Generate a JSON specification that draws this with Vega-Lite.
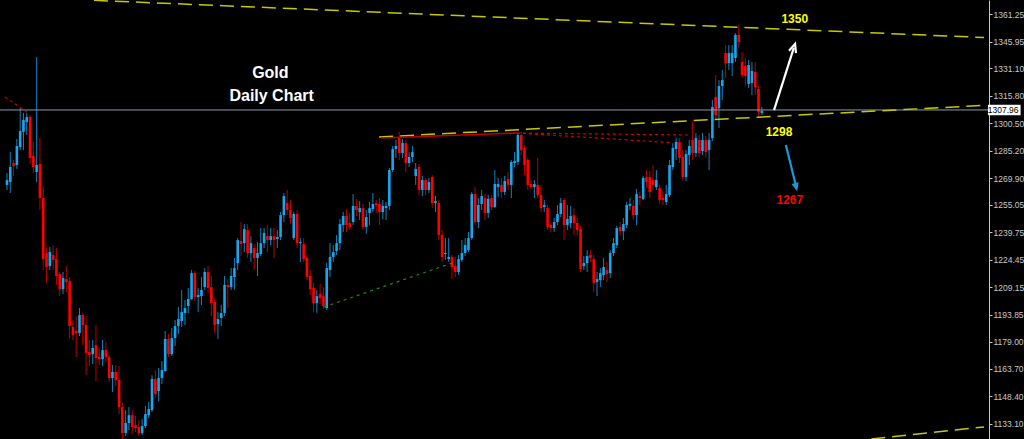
{
"$schema": "https://vega.github.io/schema/vega-lite/v6.json",
"width": 989, "height": 439, "autosize": "none",
"padding": {"left": 0, "top": 0, "right": 35, "bottom": 0},
"background": "#000000",
"config": {"view": {"stroke": null}, "axis": {"grid": false}},
"datasets": {
"candles": [
{"i":0,"o":1266.2,"h":1272.8,"l":1263.4,"c":1268.9},
{"i":1,"o":1267.8,"h":1284.5,"l":1261.7,"c":1276.2},
{"i":2,"o":1278.4,"h":1280.1,"l":1271.2,"c":1276.7},
{"i":3,"o":1277.3,"h":1291.8,"l":1275.1,"c":1287.9},
{"i":4,"o":1287.3,"h":1309.0,"l":1285.6,"c":1296.2},
{"i":5,"o":1295.7,"h":1306.3,"l":1285.6,"c":1302.4},
{"i":6,"o":1301.2,"h":1306.3,"l":1294.0,"c":1304.0},
{"i":7,"o":1304.0,"h":1305.1,"l":1277.9,"c":1281.2},
{"i":8,"o":1282.3,"h":1290.1,"l":1272.8,"c":1276.2},
{"i":9,"o":1273.4,"h":1337.5,"l":1267.8,"c":1277.3},
{"i":10,"o":1277.9,"h":1292.3,"l":1252.2,"c":1258.9},
{"i":11,"o":1258.9,"h":1265.6,"l":1218.8,"c":1224.9},
{"i":12,"o":1228.3,"h":1231.1,"l":1211.6,"c":1220.5},
{"i":13,"o":1221.0,"h":1231.6,"l":1218.8,"c":1228.8},
{"i":14,"o":1227.2,"h":1232.7,"l":1218.8,"c":1224.4},
{"i":15,"o":1224.9,"h":1231.1,"l":1210.5,"c":1215.5},
{"i":16,"o":1216.6,"h":1217.7,"l":1204.3,"c":1208.2},
{"i":17,"o":1208.2,"h":1217.7,"l":1205.4,"c":1214.4},
{"i":18,"o":1213.8,"h":1221.0,"l":1206.6,"c":1212.1},
{"i":19,"o":1212.7,"h":1214.9,"l":1180.9,"c":1187.6},
{"i":20,"o":1187.1,"h":1191.0,"l":1179.8,"c":1182.6},
{"i":21,"o":1184.8,"h":1193.2,"l":1170.4,"c":1183.7},
{"i":22,"o":1183.7,"h":1197.6,"l":1182.0,"c":1193.7},
{"i":23,"o":1193.7,"h":1194.9,"l":1177.0,"c":1188.2},
{"i":24,"o":1188.2,"h":1193.2,"l":1160.3,"c":1172.6},
{"i":25,"o":1173.1,"h":1179.8,"l":1165.3,"c":1171.5},
{"i":26,"o":1172.0,"h":1179.8,"l":1166.5,"c":1175.4},
{"i":27,"o":1177.0,"h":1188.2,"l":1157.0,"c":1169.8},
{"i":28,"o":1170.4,"h":1175.4,"l":1165.9,"c":1169.2},
{"i":29,"o":1169.2,"h":1179.8,"l":1165.3,"c":1174.2},
{"i":30,"o":1174.2,"h":1178.7,"l":1167.6,"c":1170.4},
{"i":31,"o":1170.4,"h":1171.5,"l":1156.4,"c":1158.7},
{"i":32,"o":1158.7,"h":1165.9,"l":1150.9,"c":1162.0},
{"i":33,"o":1162.0,"h":1165.9,"l":1154.2,"c":1157.5},
{"i":34,"o":1157.5,"h":1165.3,"l":1138.6,"c":1142.5},
{"i":35,"o":1142.5,"h":1144.7,"l":1124.7,"c":1128.0},
{"i":36,"o":1128.0,"h":1140.8,"l":1126.3,"c":1133.6},
{"i":37,"o":1133.6,"h":1142.5,"l":1129.7,"c":1138.0},
{"i":38,"o":1138.0,"h":1140.8,"l":1127.5,"c":1131.4},
{"i":39,"o":1132.5,"h":1137.5,"l":1128.6,"c":1130.8},
{"i":40,"o":1131.4,"h":1135.3,"l":1126.3,"c":1128.0},
{"i":41,"o":1128.0,"h":1135.8,"l":1126.9,"c":1131.9},
{"i":42,"o":1131.9,"h":1143.1,"l":1130.8,"c":1138.6},
{"i":43,"o":1138.0,"h":1145.3,"l":1136.4,"c":1141.4},
{"i":44,"o":1140.8,"h":1160.3,"l":1139.7,"c":1158.1},
{"i":45,"o":1158.1,"h":1163.1,"l":1147.5,"c":1149.7},
{"i":46,"o":1151.4,"h":1164.2,"l":1145.8,"c":1158.7},
{"i":47,"o":1158.7,"h":1168.1,"l":1155.3,"c":1163.1},
{"i":48,"o":1162.6,"h":1184.8,"l":1162.0,"c":1180.4},
{"i":49,"o":1180.4,"h":1183.2,"l":1170.4,"c":1172.0},
{"i":50,"o":1172.0,"h":1186.5,"l":1170.9,"c":1180.9},
{"i":51,"o":1180.9,"h":1191.0,"l":1176.5,"c":1187.6},
{"i":52,"o":1187.6,"h":1198.2,"l":1183.2,"c":1191.5},
{"i":53,"o":1190.4,"h":1207.7,"l":1187.1,"c":1195.4},
{"i":54,"o":1194.9,"h":1202.1,"l":1188.2,"c":1197.6},
{"i":55,"o":1198.8,"h":1208.8,"l":1194.9,"c":1202.7},
{"i":56,"o":1202.7,"h":1218.8,"l":1202.1,"c":1217.1},
{"i":57,"o":1217.1,"h":1218.3,"l":1201.5,"c":1203.8},
{"i":58,"o":1203.8,"h":1208.8,"l":1195.4,"c":1204.9},
{"i":59,"o":1204.3,"h":1214.9,"l":1199.3,"c":1207.7},
{"i":60,"o":1209.3,"h":1219.9,"l":1207.7,"c":1217.7},
{"i":61,"o":1217.7,"h":1221.0,"l":1206.0,"c":1208.8},
{"i":62,"o":1209.3,"h":1215.5,"l":1193.2,"c":1200.4},
{"i":63,"o":1201.0,"h":1203.2,"l":1183.7,"c":1188.2},
{"i":64,"o":1188.7,"h":1195.4,"l":1180.4,"c":1191.5},
{"i":65,"o":1192.1,"h":1199.3,"l":1187.6,"c":1194.9},
{"i":66,"o":1194.9,"h":1215.5,"l":1193.2,"c":1210.5},
{"i":67,"o":1210.5,"h":1213.8,"l":1197.6,"c":1209.3},
{"i":68,"o":1209.3,"h":1219.9,"l":1207.7,"c":1215.5},
{"i":69,"o":1214.9,"h":1225.5,"l":1207.7,"c":1219.9},
{"i":70,"o":1222.7,"h":1236.6,"l":1218.8,"c":1235.5},
{"i":71,"o":1235.0,"h":1245.5,"l":1226.6,"c":1233.3},
{"i":72,"o":1233.8,"h":1244.4,"l":1228.8,"c":1241.6},
{"i":73,"o":1241.1,"h":1244.4,"l":1225.5,"c":1228.3},
{"i":74,"o":1228.3,"h":1237.7,"l":1223.3,"c":1233.8},
{"i":75,"o":1231.1,"h":1233.3,"l":1218.8,"c":1225.5},
{"i":76,"o":1225.5,"h":1234.4,"l":1215.5,"c":1228.3},
{"i":77,"o":1227.7,"h":1242.2,"l":1226.6,"c":1233.8},
{"i":78,"o":1233.8,"h":1242.2,"l":1231.1,"c":1239.4},
{"i":79,"o":1237.7,"h":1243.9,"l":1228.8,"c":1235.5},
{"i":80,"o":1235.5,"h":1242.2,"l":1232.7,"c":1237.7},
{"i":81,"o":1237.7,"h":1242.2,"l":1225.5,"c":1235.5},
{"i":82,"o":1236.1,"h":1241.1,"l":1231.1,"c":1237.2},
{"i":83,"o":1237.2,"h":1251.1,"l":1235.5,"c":1249.4},
{"i":84,"o":1249.4,"h":1261.7,"l":1245.5,"c":1260.0},
{"i":85,"o":1256.1,"h":1263.4,"l":1249.4,"c":1252.2},
{"i":86,"o":1252.2,"h":1257.8,"l":1244.4,"c":1247.8},
{"i":87,"o":1236.6,"h":1251.1,"l":1235.5,"c":1250.0},
{"i":88,"o":1250.0,"h":1252.2,"l":1231.1,"c":1233.8},
{"i":89,"o":1233.8,"h":1236.6,"l":1223.3,"c":1234.4},
{"i":90,"o":1233.3,"h":1236.6,"l":1223.3,"c":1224.9},
{"i":91,"o":1225.5,"h":1227.2,"l":1213.2,"c":1214.9},
{"i":92,"o":1215.5,"h":1218.8,"l":1204.9,"c":1208.2},
{"i":93,"o":1208.8,"h":1211.6,"l":1195.4,"c":1200.4},
{"i":94,"o":1200.4,"h":1207.7,"l":1194.9,"c":1204.3},
{"i":95,"o":1205.4,"h":1211.0,"l":1199.9,"c":1203.2},
{"i":96,"o":1204.3,"h":1209.3,"l":1197.1,"c":1198.8},
{"i":97,"o":1197.6,"h":1222.7,"l":1196.5,"c":1219.9},
{"i":98,"o":1218.8,"h":1233.8,"l":1214.9,"c":1226.1},
{"i":99,"o":1226.1,"h":1232.7,"l":1223.3,"c":1228.8},
{"i":100,"o":1229.4,"h":1238.3,"l":1227.2,"c":1233.8},
{"i":101,"o":1233.8,"h":1247.2,"l":1229.9,"c":1244.4},
{"i":102,"o":1243.9,"h":1251.1,"l":1240.0,"c":1248.9},
{"i":103,"o":1248.9,"h":1252.8,"l":1240.0,"c":1243.9},
{"i":104,"o":1245.0,"h":1250.6,"l":1241.1,"c":1242.8},
{"i":105,"o":1245.5,"h":1261.1,"l":1243.9,"c":1254.5},
{"i":106,"o":1254.5,"h":1258.4,"l":1248.9,"c":1252.2},
{"i":107,"o":1251.1,"h":1257.2,"l":1246.7,"c":1253.3},
{"i":108,"o":1253.3,"h":1255.6,"l":1241.1,"c":1242.8},
{"i":109,"o":1242.8,"h":1252.2,"l":1238.9,"c":1248.3},
{"i":110,"o":1250.6,"h":1256.7,"l":1243.9,"c":1253.3},
{"i":111,"o":1252.8,"h":1261.7,"l":1251.1,"c":1255.6},
{"i":112,"o":1256.1,"h":1257.8,"l":1250.6,"c":1255.0},
{"i":113,"o":1255.6,"h":1258.9,"l":1243.9,"c":1251.1},
{"i":114,"o":1251.1,"h":1257.8,"l":1247.2,"c":1254.5},
{"i":115,"o":1253.3,"h":1256.7,"l":1246.7,"c":1254.5},
{"i":116,"o":1254.5,"h":1275.6,"l":1252.2,"c":1274.5},
{"i":117,"o":1274.5,"h":1287.9,"l":1273.4,"c":1286.2},
{"i":118,"o":1286.2,"h":1291.2,"l":1281.2,"c":1287.9},
{"i":119,"o":1292.3,"h":1295.7,"l":1280.1,"c":1284.0},
{"i":120,"o":1284.0,"h":1291.8,"l":1281.2,"c":1289.5},
{"i":121,"o":1289.5,"h":1291.2,"l":1273.4,"c":1278.4},
{"i":122,"o":1278.4,"h":1284.5,"l":1276.2,"c":1281.8},
{"i":123,"o":1281.8,"h":1287.9,"l":1279.0,"c":1284.5},
{"i":124,"o":1271.2,"h":1278.4,"l":1266.2,"c":1275.1},
{"i":125,"o":1276.2,"h":1277.9,"l":1260.6,"c":1263.4},
{"i":126,"o":1263.4,"h":1271.2,"l":1260.0,"c":1268.9},
{"i":127,"o":1268.9,"h":1270.1,"l":1260.6,"c":1263.4},
{"i":128,"o":1263.4,"h":1270.1,"l":1261.7,"c":1267.8},
{"i":129,"o":1270.6,"h":1271.7,"l":1253.3,"c":1256.1},
{"i":130,"o":1256.1,"h":1260.0,"l":1251.1,"c":1257.2},
{"i":131,"o":1256.1,"h":1257.8,"l":1235.5,"c":1238.3},
{"i":132,"o":1238.3,"h":1241.1,"l":1223.3,"c":1226.1},
{"i":133,"o":1227.7,"h":1236.6,"l":1224.4,"c":1228.3},
{"i":134,"o":1224.9,"h":1236.6,"l":1223.3,"c":1226.1},
{"i":135,"o":1226.1,"h":1227.2,"l":1213.8,"c":1220.5},
{"i":136,"o":1221.0,"h":1226.1,"l":1214.9,"c":1217.7},
{"i":137,"o":1217.7,"h":1227.2,"l":1216.0,"c":1224.9},
{"i":138,"o":1224.4,"h":1235.5,"l":1223.3,"c":1228.3},
{"i":139,"o":1228.3,"h":1236.6,"l":1226.6,"c":1232.7},
{"i":140,"o":1229.9,"h":1240.0,"l":1228.8,"c":1236.6},
{"i":141,"o":1236.6,"h":1262.3,"l":1235.5,"c":1261.1},
{"i":142,"o":1261.1,"h":1265.0,"l":1243.9,"c":1245.5},
{"i":143,"o":1245.5,"h":1258.9,"l":1242.2,"c":1255.0},
{"i":144,"o":1255.6,"h":1263.4,"l":1252.2,"c":1260.0},
{"i":145,"o":1258.9,"h":1261.1,"l":1246.7,"c":1250.6},
{"i":146,"o":1250.6,"h":1260.6,"l":1247.8,"c":1258.4},
{"i":147,"o":1258.9,"h":1260.6,"l":1252.2,"c":1253.9},
{"i":148,"o":1253.9,"h":1274.5,"l":1253.3,"c":1266.7},
{"i":149,"o":1265.0,"h":1270.1,"l":1259.5,"c":1266.7},
{"i":150,"o":1266.2,"h":1270.1,"l":1258.9,"c":1262.3},
{"i":151,"o":1262.3,"h":1271.2,"l":1260.6,"c":1268.4},
{"i":152,"o":1269.5,"h":1273.4,"l":1263.4,"c":1266.2},
{"i":153,"o":1266.2,"h":1280.1,"l":1258.9,"c":1279.0},
{"i":154,"o":1278.4,"h":1284.5,"l":1276.2,"c":1279.5},
{"i":155,"o":1279.0,"h":1295.1,"l":1277.3,"c":1294.0},
{"i":156,"o":1294.0,"h":1295.7,"l":1282.9,"c":1285.6},
{"i":157,"o":1286.8,"h":1288.4,"l":1271.7,"c":1277.3},
{"i":158,"o":1280.1,"h":1281.2,"l":1263.4,"c":1266.2},
{"i":159,"o":1266.7,"h":1268.9,"l":1263.4,"c":1265.0},
{"i":160,"o":1265.0,"h":1268.9,"l":1258.9,"c":1266.7},
{"i":161,"o":1266.2,"h":1281.2,"l":1258.9,"c":1260.6},
{"i":162,"o":1260.6,"h":1266.2,"l":1251.1,"c":1253.3},
{"i":163,"o":1253.9,"h":1257.8,"l":1251.1,"c":1255.0},
{"i":164,"o":1253.3,"h":1255.0,"l":1241.1,"c":1242.8},
{"i":165,"o":1243.9,"h":1245.5,"l":1240.0,"c":1242.2},
{"i":166,"o":1242.2,"h":1247.8,"l":1240.0,"c":1245.5},
{"i":167,"o":1245.5,"h":1255.0,"l":1243.9,"c":1250.0},
{"i":168,"o":1250.0,"h":1258.9,"l":1248.3,"c":1256.1},
{"i":169,"o":1257.8,"h":1258.9,"l":1235.5,"c":1243.9},
{"i":170,"o":1243.9,"h":1255.0,"l":1241.1,"c":1247.2},
{"i":171,"o":1245.0,"h":1254.5,"l":1242.2,"c":1248.9},
{"i":172,"o":1249.4,"h":1253.3,"l":1238.3,"c":1245.0},
{"i":173,"o":1245.0,"h":1247.8,"l":1238.3,"c":1241.1},
{"i":174,"o":1241.6,"h":1243.3,"l":1217.7,"c":1219.4},
{"i":175,"o":1221.0,"h":1226.6,"l":1218.8,"c":1222.7},
{"i":176,"o":1222.7,"h":1229.9,"l":1217.7,"c":1226.6},
{"i":177,"o":1227.2,"h":1229.9,"l":1223.3,"c":1225.5},
{"i":178,"o":1224.9,"h":1227.2,"l":1206.6,"c":1211.6},
{"i":179,"o":1212.1,"h":1217.7,"l":1204.3,"c":1213.8},
{"i":180,"o":1213.2,"h":1219.9,"l":1209.3,"c":1217.1},
{"i":181,"o":1216.0,"h":1225.5,"l":1213.2,"c":1220.5},
{"i":182,"o":1218.8,"h":1223.3,"l":1212.1,"c":1216.6},
{"i":183,"o":1217.1,"h":1229.9,"l":1214.4,"c":1228.3},
{"i":184,"o":1228.3,"h":1236.6,"l":1226.6,"c":1233.8},
{"i":185,"o":1232.7,"h":1243.3,"l":1231.1,"c":1242.2},
{"i":186,"o":1242.8,"h":1245.5,"l":1237.7,"c":1240.5},
{"i":187,"o":1240.5,"h":1247.8,"l":1235.5,"c":1244.4},
{"i":188,"o":1243.9,"h":1256.7,"l":1242.2,"c":1255.0},
{"i":189,"o":1254.5,"h":1258.9,"l":1252.2,"c":1255.6},
{"i":190,"o":1254.5,"h":1257.8,"l":1246.7,"c":1249.4},
{"i":191,"o":1249.4,"h":1263.9,"l":1243.9,"c":1261.1},
{"i":192,"o":1260.0,"h":1262.3,"l":1255.0,"c":1258.9},
{"i":193,"o":1258.4,"h":1271.2,"l":1257.8,"c":1270.1},
{"i":194,"o":1270.6,"h":1274.5,"l":1264.5,"c":1267.8},
{"i":195,"o":1270.6,"h":1274.0,"l":1258.9,"c":1262.3},
{"i":196,"o":1268.9,"h":1277.3,"l":1263.4,"c":1266.2},
{"i":197,"o":1265.0,"h":1274.5,"l":1263.4,"c":1268.9},
{"i":198,"o":1264.5,"h":1266.2,"l":1255.6,"c":1257.8},
{"i":199,"o":1258.9,"h":1262.3,"l":1255.0,"c":1257.8},
{"i":200,"o":1256.7,"h":1266.2,"l":1255.0,"c":1261.1},
{"i":201,"o":1260.6,"h":1280.1,"l":1259.5,"c":1277.3},
{"i":202,"o":1276.2,"h":1289.5,"l":1274.5,"c":1286.8},
{"i":203,"o":1286.2,"h":1292.3,"l":1280.1,"c":1290.1},
{"i":204,"o":1290.1,"h":1292.3,"l":1278.4,"c":1281.2},
{"i":205,"o":1281.8,"h":1285.6,"l":1268.9,"c":1270.6},
{"i":206,"o":1270.6,"h":1285.6,"l":1268.4,"c":1283.4},
{"i":207,"o":1282.9,"h":1291.2,"l":1277.3,"c":1287.9},
{"i":208,"o":1291.2,"h":1301.2,"l":1280.1,"c":1284.0},
{"i":209,"o":1284.0,"h":1295.1,"l":1281.8,"c":1292.3},
{"i":210,"o":1291.2,"h":1294.0,"l":1281.2,"c":1284.0},
{"i":211,"o":1285.1,"h":1295.1,"l":1282.9,"c":1291.2},
{"i":212,"o":1291.2,"h":1293.4,"l":1281.2,"c":1284.5},
{"i":213,"o":1285.6,"h":1295.1,"l":1274.5,"c":1291.2},
{"i":214,"o":1292.3,"h":1313.5,"l":1290.7,"c":1309.6},
{"i":215,"o":1315.2,"h":1327.4,"l":1302.4,"c":1305.1},
{"i":216,"o":1309.0,"h":1324.6,"l":1297.9,"c":1321.3},
{"i":217,"o":1321.3,"h":1330.2,"l":1313.5,"c":1324.6},
{"i":218,"o":1339.7,"h":1344.1,"l":1325.8,"c":1334.1},
{"i":219,"o":1334.1,"h":1344.1,"l":1330.2,"c":1339.7},
{"i":220,"o":1334.1,"h":1344.1,"l":1326.9,"c":1339.7},
{"i":221,"o":1336.9,"h":1350.8,"l":1334.7,"c":1349.7},
{"i":222,"o":1349.7,"h":1355.3,"l":1342.5,"c":1345.8},
{"i":223,"o":1334.7,"h":1340.2,"l":1325.8,"c":1327.4},
{"i":224,"o":1332.4,"h":1336.9,"l":1321.3,"c":1326.9},
{"i":225,"o":1322.4,"h":1335.8,"l":1320.2,"c":1333.0},
{"i":226,"o":1323.0,"h":1334.7,"l":1316.3,"c":1329.7},
{"i":227,"o":1329.1,"h":1334.7,"l":1316.3,"c":1320.7},
{"i":228,"o":1319.6,"h":1321.3,"l":1304.6,"c":1306.8},
{"i":229,"o":1306.3,"h":1309.6,"l":1305.1,"c":1307.4}
]
},
"layer": [
{
"data": {"name": "candles"},
"mark": {"type": "rule", "strokeWidth": 1},
"encoding": {
"x": {"field": "i", "type": "quantitative", "scale": {"domain": [-0.6, 296.4], "nice": false, "zero": false}, "axis": null},
"y": {"field": "l", "type": "quantitative", "scale": {"domain": [1124.7, 1369.2], "nice": false, "zero": false},
"axis": {"orient": "right", "values": [1361.25, 1345.95, 1331.10, 1315.80, 1300.50, 1285.20, 1269.90, 1255.05, 1239.75, 1224.45, 1209.15, 1193.85, 1179.00, 1163.70, 1148.40, 1133.10], "format": ".2f", "title": null, "domainColor": "#c8c8c8", "tickColor": "#c8c8c8", "tickSize": 3, "labelColor": "#c8c8c8", "labelFont": "Liberation Sans", "labelFontSize": 8.5, "labelPadding": 1, "labelOverlap": false, "labelBound": false, "labelFlush": false, "grid": false}},
"y2": {"field": "h"},
"color": {"condition": {"test": "datum.c >= datum.o", "value": "#1282bd"}, "value": "#b80000"}
}
},
{
"data": {"name": "candles"},
"mark": {"type": "bar", "size": 2.6},
"encoding": {
"x": {"field": "i", "type": "quantitative", "scale": {"domain": [-0.6, 296.4], "nice": false, "zero": false}, "axis": null},
"y": {"field": "o", "type": "quantitative", "scale": {"domain": [1124.7, 1369.2], "nice": false, "zero": false},
"axis": {"orient": "right", "values": [1361.25, 1345.95, 1331.10, 1315.80, 1300.50, 1285.20, 1269.90, 1255.05, 1239.75, 1224.45, 1209.15, 1193.85, 1179.00, 1163.70, 1148.40, 1133.10], "format": ".2f", "title": null, "domainColor": "#c8c8c8", "tickColor": "#c8c8c8", "tickSize": 3, "labelColor": "#c8c8c8", "labelFont": "Liberation Sans", "labelFontSize": 8.5, "labelPadding": 1, "labelOverlap": false, "labelBound": false, "labelFlush": false, "grid": false}},
"y2": {"field": "c"},
"color": {"condition": {"test": "datum.c >= datum.o", "value": "#14a8f0"}, "value": "#ff0000"}
}
},
{
"data": {"values": [{"p": 1307.96}]},
"mark": {"type": "rule", "color": "#8a9aae", "strokeWidth": 1},
"encoding": {"y": {"field": "p", "type": "quantitative", "scale": {"domain": [1124.7, 1369.2], "nice": false, "zero": false},
"axis": {"orient": "right", "values": [1361.25, 1345.95, 1331.10, 1315.80, 1300.50, 1285.20, 1269.90, 1255.05, 1239.75, 1224.45, 1209.15, 1193.85, 1179.00, 1163.70, 1148.40, 1133.10], "format": ".2f", "title": null, "domainColor": "#c8c8c8", "tickColor": "#c8c8c8", "tickSize": 3, "labelColor": "#c8c8c8", "labelFont": "Liberation Sans", "labelFontSize": 8.5, "labelPadding": 1, "labelOverlap": false, "labelBound": false, "labelFlush": false, "grid": false}}}
},
{
"data": {"values": [
{"x1": 26.4, "y1": 1369.0, "x2": 296.4, "y2": 1348.3},
{"x1": 112.9, "y1": 1292.9, "x2": 296.4, "y2": 1310.5},
{"x1": 262.2, "y1": 1124.7, "x2": 296.4, "y2": 1131.4}
]},
"mark": {"type": "rule", "color": "#c8c800", "strokeWidth": 1.5, "strokeDash": [14, 7]},
"encoding": {
"x": {"field": "x1", "type": "quantitative", "scale": {"domain": [-0.6, 296.4], "nice": false, "zero": false}, "axis": null},
"y": {"field": "y1", "type": "quantitative", "scale": {"domain": [1124.7, 1369.2], "nice": false, "zero": false},
"axis": {"orient": "right", "values": [1361.25, 1345.95, 1331.10, 1315.80, 1300.50, 1285.20, 1269.90, 1255.05, 1239.75, 1224.45, 1209.15, 1193.85, 1179.00, 1163.70, 1148.40, 1133.10], "format": ".2f", "title": null, "domainColor": "#c8c8c8", "tickColor": "#c8c8c8", "tickSize": 3, "labelColor": "#c8c8c8", "labelFont": "Liberation Sans", "labelFontSize": 8.5, "labelPadding": 1, "labelOverlap": false, "labelBound": false, "labelFlush": false, "grid": false}},
"x2": {"field": "x2"}, "y2": {"field": "y2"}
}
},
{
"data": {"values": [
{"x1": -0.6, "y1": 1315.2, "x2": 6, "y2": 1306.8},
{"x1": 154.7, "y1": 1295.1, "x2": 207.5, "y2": 1294.0},
{"x1": 154.7, "y1": 1295.1, "x2": 201.5, "y2": 1289.8}
]},
"mark": {"type": "rule", "color": "#d00000", "strokeWidth": 1.2, "strokeDash": [3, 3]},
"encoding": {
"x": {"field": "x1", "type": "quantitative", "scale": {"domain": [-0.6, 296.4], "nice": false, "zero": false}, "axis": null},
"y": {"field": "y1", "type": "quantitative", "scale": {"domain": [1124.7, 1369.2], "nice": false, "zero": false},
"axis": {"orient": "right", "values": [1361.25, 1345.95, 1331.10, 1315.80, 1300.50, 1285.20, 1269.90, 1255.05, 1239.75, 1224.45, 1209.15, 1193.85, 1179.00, 1163.70, 1148.40, 1133.10], "format": ".2f", "title": null, "domainColor": "#c8c8c8", "tickColor": "#c8c8c8", "tickSize": 3, "labelColor": "#c8c8c8", "labelFont": "Liberation Sans", "labelFontSize": 8.5, "labelPadding": 1, "labelOverlap": false, "labelBound": false, "labelFlush": false, "grid": false}},
"x2": {"field": "x2"}, "y2": {"field": "y2"}
}
},
{
"data": {"values": [{"x1": 113.5, "y1": 1292.4, "x2": 154.7, "y2": 1295.1}]},
"mark": {"type": "rule", "color": "#c00000", "strokeWidth": 1.5},
"encoding": {
"x": {"field": "x1", "type": "quantitative", "scale": {"domain": [-0.6, 296.4], "nice": false, "zero": false}, "axis": null},
"y": {"field": "y1", "type": "quantitative", "scale": {"domain": [1124.7, 1369.2], "nice": false, "zero": false},
"axis": {"orient": "right", "values": [1361.25, 1345.95, 1331.10, 1315.80, 1300.50, 1285.20, 1269.90, 1255.05, 1239.75, 1224.45, 1209.15, 1193.85, 1179.00, 1163.70, 1148.40, 1133.10], "format": ".2f", "title": null, "domainColor": "#c8c8c8", "tickColor": "#c8c8c8", "tickSize": 3, "labelColor": "#c8c8c8", "labelFont": "Liberation Sans", "labelFontSize": 8.5, "labelPadding": 1, "labelOverlap": false, "labelBound": false, "labelFlush": false, "grid": false}},
"x2": {"field": "x2"}, "y2": {"field": "y2"}
}
},
{
"data": {"values": [{"x1": 96.1, "y1": 1198.2, "x2": 136, "y2": 1223.3}]},
"mark": {"type": "rule", "color": "#1c8c1c", "strokeWidth": 1.2, "strokeDash": [3, 4]},
"encoding": {
"x": {"field": "x1", "type": "quantitative", "scale": {"domain": [-0.6, 296.4], "nice": false, "zero": false}, "axis": null},
"y": {"field": "y1", "type": "quantitative", "scale": {"domain": [1124.7, 1369.2], "nice": false, "zero": false},
"axis": {"orient": "right", "values": [1361.25, 1345.95, 1331.10, 1315.80, 1300.50, 1285.20, 1269.90, 1255.05, 1239.75, 1224.45, 1209.15, 1193.85, 1179.00, 1163.70, 1148.40, 1133.10], "format": ".2f", "title": null, "domainColor": "#c8c8c8", "tickColor": "#c8c8c8", "tickSize": 3, "labelColor": "#c8c8c8", "labelFont": "Liberation Sans", "labelFontSize": 8.5, "labelPadding": 1, "labelOverlap": false, "labelBound": false, "labelFlush": false, "grid": false}},
"x2": {"field": "x2"}, "y2": {"field": "y2"}
}
},
{
"data": {"values": [{"x1": 232.7, "y1": 1307.9, "x2": 238.7, "y2": 1342.5}]},
"mark": {"type": "rule", "color": "#ffffff", "strokeWidth": 2.2},
"encoding": {
"x": {"field": "x1", "type": "quantitative", "scale": {"domain": [-0.6, 296.4], "nice": false, "zero": false}, "axis": null},
"y": {"field": "y1", "type": "quantitative", "scale": {"domain": [1124.7, 1369.2], "nice": false, "zero": false},
"axis": {"orient": "right", "values": [1361.25, 1345.95, 1331.10, 1315.80, 1300.50, 1285.20, 1269.90, 1255.05, 1239.75, 1224.45, 1209.15, 1193.85, 1179.00, 1163.70, 1148.40, 1133.10], "format": ".2f", "title": null, "domainColor": "#c8c8c8", "tickColor": "#c8c8c8", "tickSize": 3, "labelColor": "#c8c8c8", "labelFont": "Liberation Sans", "labelFontSize": 8.5, "labelPadding": 1, "labelOverlap": false, "labelBound": false, "labelFlush": false, "grid": false}},
"x2": {"field": "x2"}, "y2": {"field": "y2"}
}
},
{
"data": {"values": [{"x": 238.7, "y": 1342.5}]},
"mark": {"type": "point", "shape": "M-0.7,0.8L0,-0.8L0.7,0.8", "filled": false, "stroke": "#ffffff", "strokeWidth": 2.2, "size": 110, "angle": 18, "opacity": 1},
"encoding": {
"x": {"field": "x", "type": "quantitative", "scale": {"domain": [-0.6, 296.4], "nice": false, "zero": false}, "axis": null},
"y": {"field": "y", "type": "quantitative", "scale": {"domain": [1124.7, 1369.2], "nice": false, "zero": false},
"axis": {"orient": "right", "values": [1361.25, 1345.95, 1331.10, 1315.80, 1300.50, 1285.20, 1269.90, 1255.05, 1239.75, 1224.45, 1209.15, 1193.85, 1179.00, 1163.70, 1148.40, 1133.10], "format": ".2f", "title": null, "domainColor": "#c8c8c8", "tickColor": "#c8c8c8", "tickSize": 3, "labelColor": "#c8c8c8", "labelFont": "Liberation Sans", "labelFontSize": 8.5, "labelPadding": 1, "labelOverlap": false, "labelBound": false, "labelFlush": false, "grid": false}}
}
},
{
"data": {"values": [{"x1": 236.3, "y1": 1288.5, "x2": 239.3, "y2": 1266.0}]},
"mark": {"type": "rule", "color": "#1a9ad9", "strokeWidth": 2.2},
"encoding": {
"x": {"field": "x1", "type": "quantitative", "scale": {"domain": [-0.6, 296.4], "nice": false, "zero": false}, "axis": null},
"y": {"field": "y1", "type": "quantitative", "scale": {"domain": [1124.7, 1369.2], "nice": false, "zero": false},
"axis": {"orient": "right", "values": [1361.25, 1345.95, 1331.10, 1315.80, 1300.50, 1285.20, 1269.90, 1255.05, 1239.75, 1224.45, 1209.15, 1193.85, 1179.00, 1163.70, 1148.40, 1133.10], "format": ".2f", "title": null, "domainColor": "#c8c8c8", "tickColor": "#c8c8c8", "tickSize": 3, "labelColor": "#c8c8c8", "labelFont": "Liberation Sans", "labelFontSize": 8.5, "labelPadding": 1, "labelOverlap": false, "labelBound": false, "labelFlush": false, "grid": false}},
"x2": {"field": "x2"}, "y2": {"field": "y2"}
}
},
{
"data": {"values": [{"x": 239.4, "y": 1265.0}]},
"mark": {"type": "point", "shape": "M-0.7,0.8L0,-0.8L0.7,0.8Z", "filled": true, "fill": "#1a9ad9", "size": 110, "angle": 166, "opacity": 1},
"encoding": {
"x": {"field": "x", "type": "quantitative", "scale": {"domain": [-0.6, 296.4], "nice": false, "zero": false}, "axis": null},
"y": {"field": "y", "type": "quantitative", "scale": {"domain": [1124.7, 1369.2], "nice": false, "zero": false},
"axis": {"orient": "right", "values": [1361.25, 1345.95, 1331.10, 1315.80, 1300.50, 1285.20, 1269.90, 1255.05, 1239.75, 1224.45, 1209.15, 1193.85, 1179.00, 1163.70, 1148.40, 1133.10], "format": ".2f", "title": null, "domainColor": "#c8c8c8", "tickColor": "#c8c8c8", "tickSize": 3, "labelColor": "#c8c8c8", "labelFont": "Liberation Sans", "labelFontSize": 8.5, "labelPadding": 1, "labelOverlap": false, "labelBound": false, "labelFlush": false, "grid": false}}
}
},
{
"data": {"values": [{"x1": 297.6, "x2": 307.5, "y1": 1305.0, "y2": 1310.9}]},
"mark": {"type": "rect", "color": "#ffffff", "clip": false},
"encoding": {
"x": {"field": "x1", "type": "quantitative", "scale": {"domain": [-0.6, 296.4], "nice": false, "zero": false}, "axis": null},
"y": {"field": "y1", "type": "quantitative", "scale": {"domain": [1124.7, 1369.2], "nice": false, "zero": false},
"axis": {"orient": "right", "values": [1361.25, 1345.95, 1331.10, 1315.80, 1300.50, 1285.20, 1269.90, 1255.05, 1239.75, 1224.45, 1209.15, 1193.85, 1179.00, 1163.70, 1148.40, 1133.10], "format": ".2f", "title": null, "domainColor": "#c8c8c8", "tickColor": "#c8c8c8", "tickSize": 3, "labelColor": "#c8c8c8", "labelFont": "Liberation Sans", "labelFontSize": 8.5, "labelPadding": 1, "labelOverlap": false, "labelBound": false, "labelFlush": false, "grid": false}},
"x2": {"field": "x2"}, "y2": {"field": "y2"}
}
},
{
"data": {"values": [{"x": 302.2, "y": 1307.96, "t": "1307.96"}]},
"mark": {"type": "text", "color": "#000000", "font": "Liberation Sans", "fontSize": 8.5, "align": "center", "baseline": "middle", "clip": false},
"encoding": {
"x": {"field": "x", "type": "quantitative", "scale": {"domain": [-0.6, 296.4], "nice": false, "zero": false}, "axis": null},
"y": {"field": "y", "type": "quantitative", "scale": {"domain": [1124.7, 1369.2], "nice": false, "zero": false},
"axis": {"orient": "right", "values": [1361.25, 1345.95, 1331.10, 1315.80, 1300.50, 1285.20, 1269.90, 1255.05, 1239.75, 1224.45, 1209.15, 1193.85, 1179.00, 1163.70, 1148.40, 1133.10], "format": ".2f", "title": null, "domainColor": "#c8c8c8", "tickColor": "#c8c8c8", "tickSize": 3, "labelColor": "#c8c8c8", "labelFont": "Liberation Sans", "labelFontSize": 8.5, "labelPadding": 1, "labelOverlap": false, "labelBound": false, "labelFlush": false, "grid": false}},
"text": {"field": "t"}
}
},
{
"data": {"values": [{"x": 79.9, "y": 1328.5, "t": "Gold"}, {"x": 80.3, "y": 1315.7, "t": "Daily Chart"}]},
"mark": {"type": "text", "color": "#ffffff", "font": "Liberation Sans", "fontSize": 16, "fontWeight": "bold", "align": "center", "baseline": "middle"},
"encoding": {
"x": {"field": "x", "type": "quantitative", "scale": {"domain": [-0.6, 296.4], "nice": false, "zero": false}, "axis": null},
"y": {"field": "y", "type": "quantitative", "scale": {"domain": [1124.7, 1369.2], "nice": false, "zero": false},
"axis": {"orient": "right", "values": [1361.25, 1345.95, 1331.10, 1315.80, 1300.50, 1285.20, 1269.90, 1255.05, 1239.75, 1224.45, 1209.15, 1193.85, 1179.00, 1163.70, 1148.40, 1133.10], "format": ".2f", "title": null, "domainColor": "#c8c8c8", "tickColor": "#c8c8c8", "tickSize": 3, "labelColor": "#c8c8c8", "labelFont": "Liberation Sans", "labelFontSize": 8.5, "labelPadding": 1, "labelOverlap": false, "labelBound": false, "labelFlush": false, "grid": false}},
"text": {"field": "t"}
}
},
{
"data": {"values": [{"x": 239.0, "y": 1358.6, "t": "1350"}, {"x": 234.2, "y": 1295.7, "t": "1298"}]},
"mark": {"type": "text", "color": "#ffff00", "font": "Liberation Sans", "fontSize": 12, "fontWeight": "bold", "align": "center", "baseline": "middle"},
"encoding": {
"x": {"field": "x", "type": "quantitative", "scale": {"domain": [-0.6, 296.4], "nice": false, "zero": false}, "axis": null},
"y": {"field": "y", "type": "quantitative", "scale": {"domain": [1124.7, 1369.2], "nice": false, "zero": false},
"axis": {"orient": "right", "values": [1361.25, 1345.95, 1331.10, 1315.80, 1300.50, 1285.20, 1269.90, 1255.05, 1239.75, 1224.45, 1209.15, 1193.85, 1179.00, 1163.70, 1148.40, 1133.10], "format": ".2f", "title": null, "domainColor": "#c8c8c8", "tickColor": "#c8c8c8", "tickSize": 3, "labelColor": "#c8c8c8", "labelFont": "Liberation Sans", "labelFontSize": 8.5, "labelPadding": 1, "labelOverlap": false, "labelBound": false, "labelFlush": false, "grid": false}},
"text": {"field": "t"}
}
},
{
"data": {"values": [{"x": 237.5, "y": 1257.8, "t": "1267"}]},
"mark": {"type": "text", "color": "#ff0000", "font": "Liberation Sans", "fontSize": 12, "fontWeight": "bold", "align": "center", "baseline": "middle"},
"encoding": {
"x": {"field": "x", "type": "quantitative", "scale": {"domain": [-0.6, 296.4], "nice": false, "zero": false}, "axis": null},
"y": {"field": "y", "type": "quantitative", "scale": {"domain": [1124.7, 1369.2], "nice": false, "zero": false},
"axis": {"orient": "right", "values": [1361.25, 1345.95, 1331.10, 1315.80, 1300.50, 1285.20, 1269.90, 1255.05, 1239.75, 1224.45, 1209.15, 1193.85, 1179.00, 1163.70, 1148.40, 1133.10], "format": ".2f", "title": null, "domainColor": "#c8c8c8", "tickColor": "#c8c8c8", "tickSize": 3, "labelColor": "#c8c8c8", "labelFont": "Liberation Sans", "labelFontSize": 8.5, "labelPadding": 1, "labelOverlap": false, "labelBound": false, "labelFlush": false, "grid": false}},
"text": {"field": "t"}
}
}
]
}
